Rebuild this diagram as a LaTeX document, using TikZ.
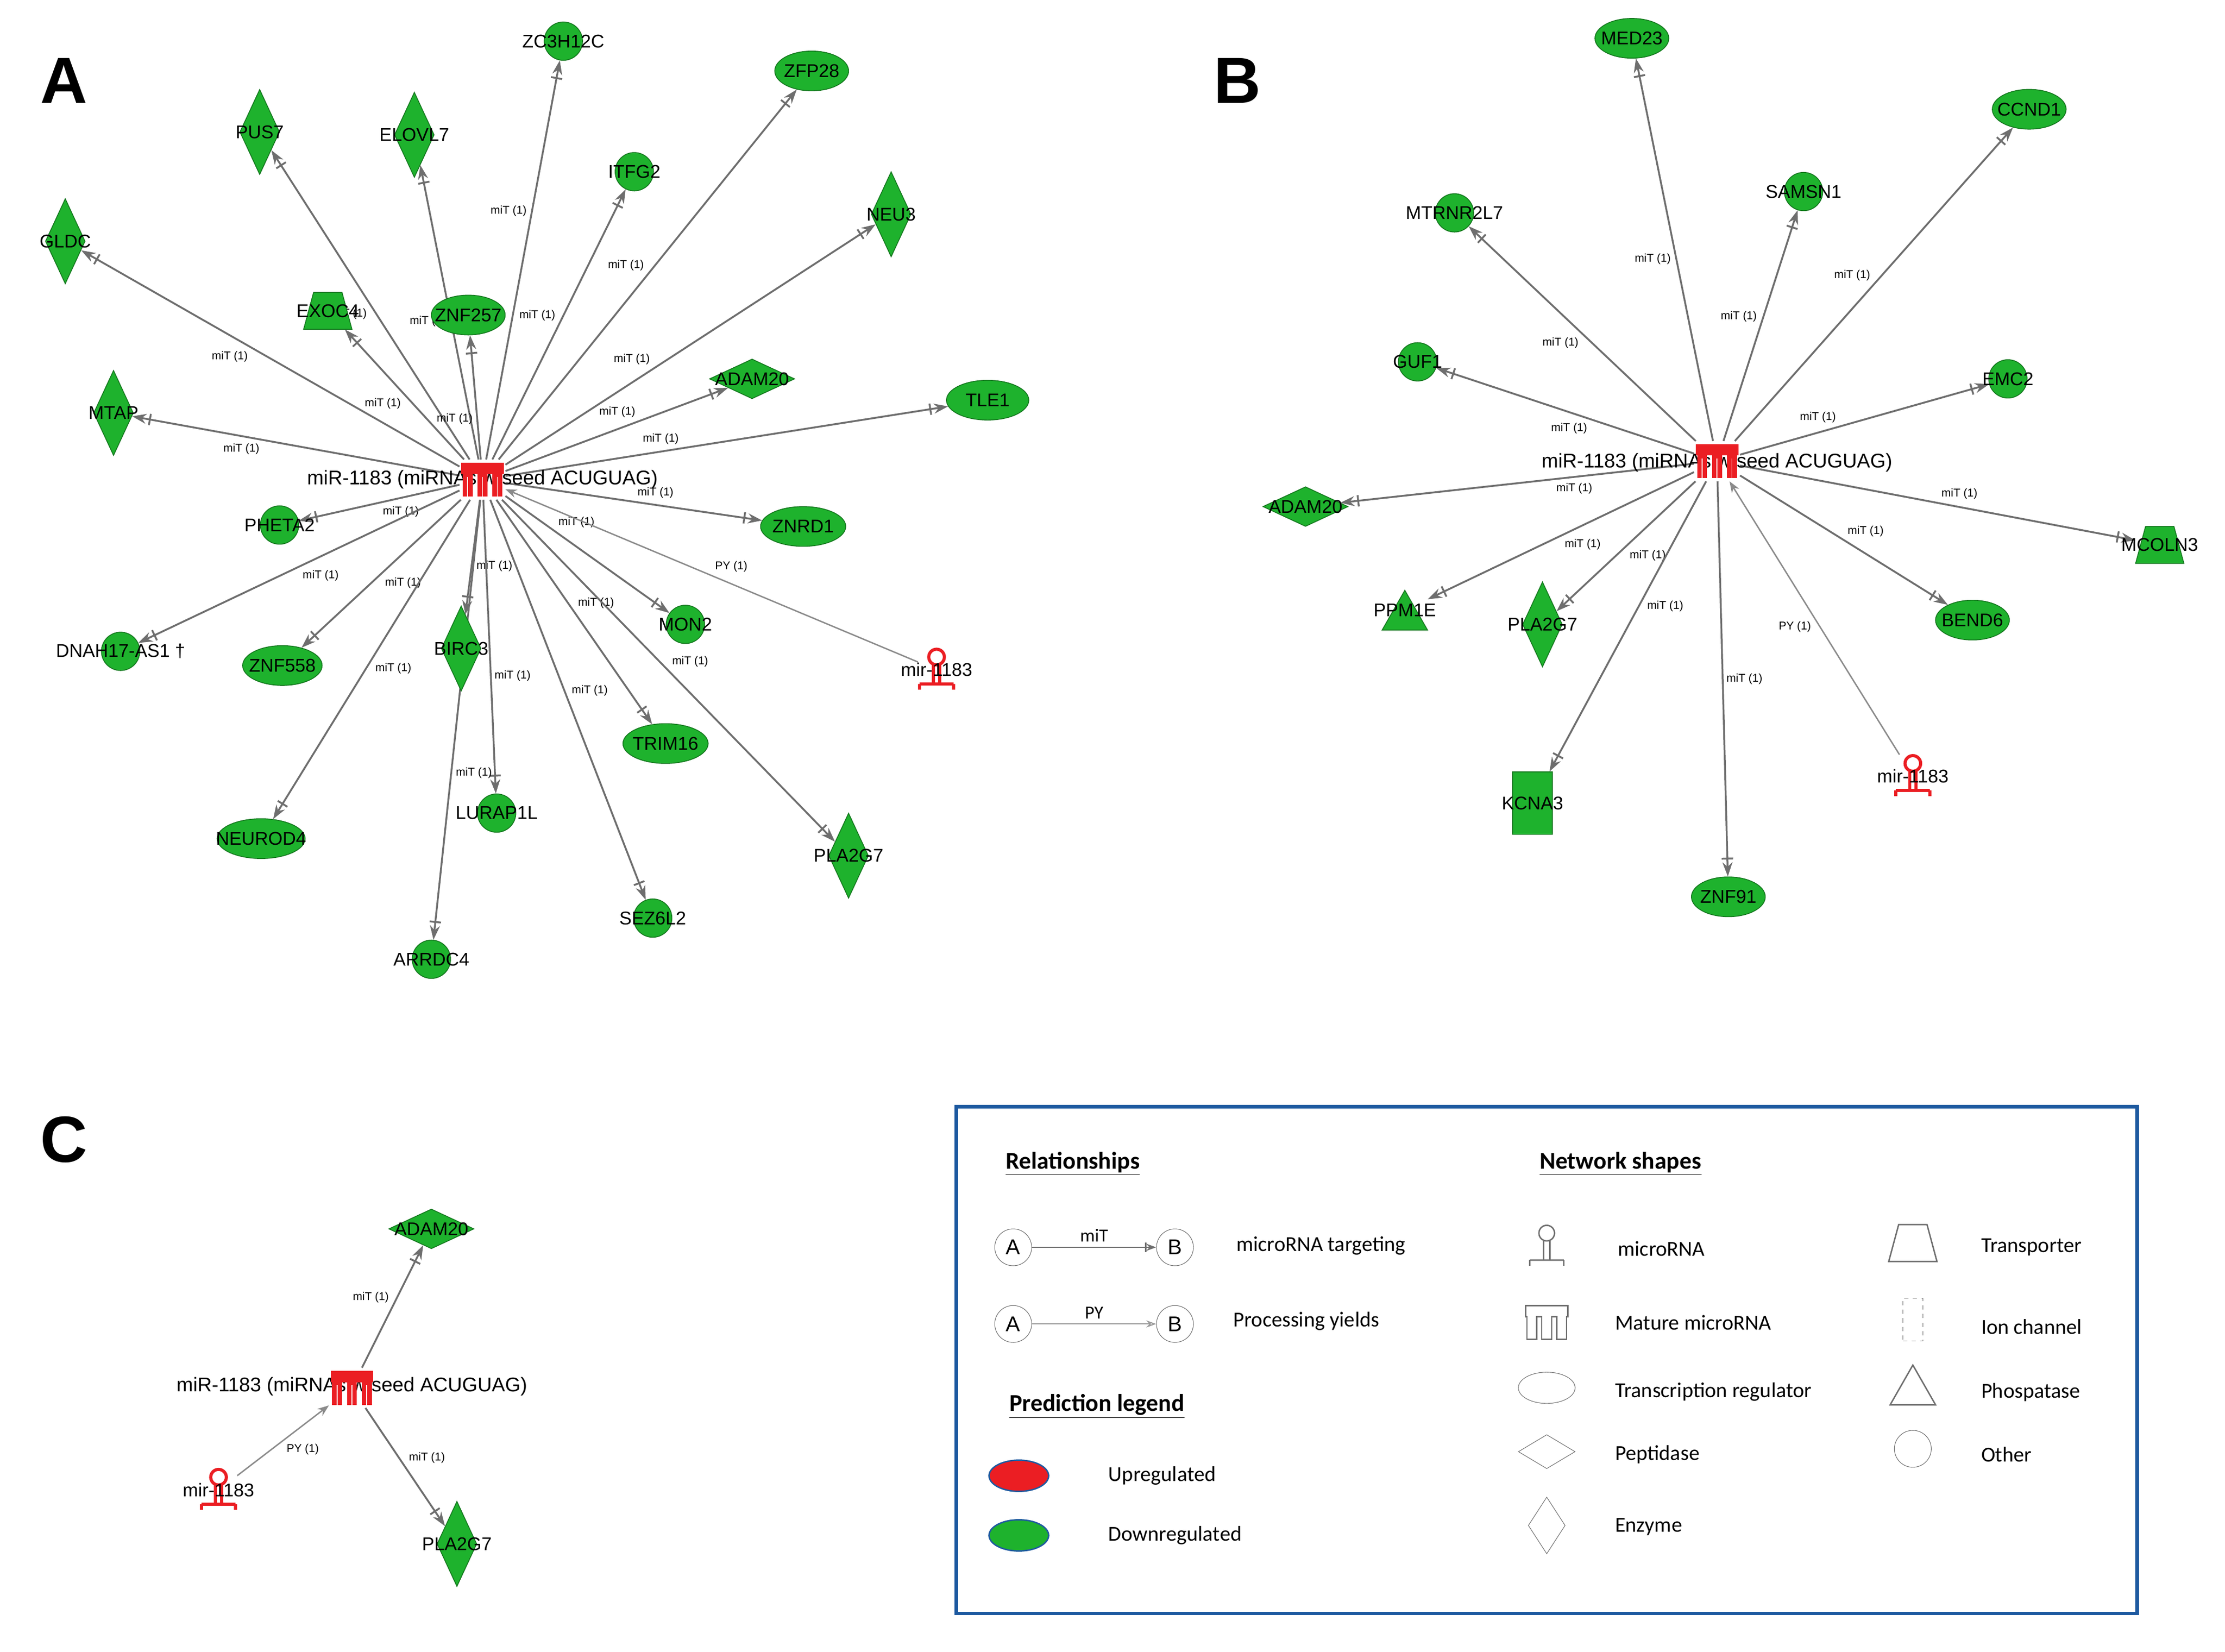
\documentclass[tikz,border=0pt]{standalone}
\usepackage{fontspec}
\setmainfont{Liberation Sans}
\newfontfamily\legf{Carlito}
\usetikzlibrary{shapes.geometric,arrows.meta,backgrounds}
\definecolor{gfill}{RGB}{30,178,45}
\definecolor{gline}{RGB}{20,120,30}
\definecolor{mred}{RGB}{235,30,35}
\definecolor{eg}{RGB}{110,110,110}
\definecolor{lblue}{RGB}{30,90,160}
\newcommand\trapZ[3]{\path[#1] ({#2-10},{#3-13}) -- ({#2+10},{#3-13}) -- ({#2+17},{#3+13}) -- ({#2-17},{#3+13}) -- cycle;}
\newcommand\triZ[3]{\path[#1] ({#2},{#3-14}) -- ({#2+16},{#3+14}) -- ({#2-16},{#3+14}) -- cycle;}
\begin{document}
\begin{tikzpicture}[x=1pt,y=-1pt,
 every label/.style={font=\fontsize{13}{15}\selectfont,inner sep=0pt},
 base/.style={fill=gfill,draw=gline,line width=0.6pt,inner sep=0pt},
 gsh/.style={fill=gfill,draw=gline,line width=0.6pt},
 ell/.style={base,ellipse,minimum width=52,minimum height=28},
 circ/.style={base,circle,minimum size=27},
 enz/.style={base,diamond,minimum width=28,minimum height=60},
 pep/.style={base,diamond,minimum width=60,minimum height=28},
 trans/.style={inner sep=0pt,minimum width=34,minimum height=26},
 phos/.style={inner sep=0pt,minimum width=32,minimum height=28},
 ion/.style={base,rectangle,minimum width=28,minimum height=44},
 hub/.style={inner sep=0pt,minimum width=32,minimum height=28},
 mic/.style={inner sep=0pt,minimum width=26,minimum height=30},
 htxt/.style={font=\fontsize{14}{16}\selectfont,inner sep=0pt},
 ed/.style={draw=eg,line width=1.3pt,-{Bar[width=8pt,sep=2pt]Stealth[length=10pt,width=7pt]}},
 py/.style={draw=eg!80,line width=1pt,-{Stealth[length=8pt,width=6pt]}},
 lb/.style={font=\fontsize{8}{9}\selectfont,inner sep=2pt,auto},
 letter/.style={font=\fontsize{46}{50}\selectfont\bfseries},
 leg/.style={font=\legf\fontsize{15}{18}\selectfont,anchor=west,inner sep=0pt},
 legh/.style={font=\legf\fontsize{17}{20}\selectfont\bfseries,inner sep=0pt},
 lc/.style={draw=eg,circle,minimum size=26,inner sep=0pt,font=\fontsize{15}{17}\selectfont},
 mature/.pic={\fill[mred] (-15,-12) rectangle (15,-4);
   \fill[mred] (-14,-4) rectangle (-7,12); \fill[mred] (-3.5,-4) rectangle (3.5,12); \fill[mred] (7,-4) rectangle (14,12);
   \draw[white,line width=0.6pt] (-10.5,-2)--(-10.5,12) (0,-2)--(0,12) (10.5,-2)--(10.5,12);},
 mirna/.pic={\draw[mred,line width=2.2pt] (0,-9) circle (5.5) (-2.2,-3.8)--(-2.2,10) (2.2,-3.8)--(2.2,10) (-12,10)--(12,10) (-12,10)--(-12,14) (12,10)--(12,14);},
]
\useasboundingbox (0,0) rectangle (1568,1164);
\newcommand\mtE[3][0.5]{\draw[ed] (#2) -- node[lb,pos=#1]{miT (1)} (#3);}
% ---------------- Panel A
\node[letter] (LA) at (45,57) {A};
\node[htxt] (ta) at (340,338) {miR-1183 (miRNAs w/seed ACUGUAG)};
\node[hub] (a0) at (340,338) {};
\pic at (340,338) {mature};
\node[enz,label=center:GLDC] (a1) at (46,170) {};
\node[enz,label=center:PUS7] (a2) at (183,93) {};
\node[enz,label=center:ELOVL7] (a3) at (292,95) {};
\node[circ,label=center:ZC3H12C] (a4) at (397,29) {};
\node[ell,label=center:ZFP28] (a5) at (572,50) {};
\node[circ,label=center:ITFG2] (a6) at (447,121) {};
\node[enz,label=center:NEU3] (a7) at (628,151) {};
\trapZ{gsh}{231}{219}
\node[trans,label=center:EXOC4] (a8) at (231,219) {};
\node[ell,label=center:ZNF257] (a9) at (330,222) {};
\node[pep,label=center:ADAM20] (a10) at (530,267) {};
\node[ell,minimum width=58,label=center:TLE1] (a11) at (696,282) {};
\node[enz,label=center:MTAP] (a12) at (80,291) {};
\node[circ,label=center:PHETA2] (a13) at (197,370) {};
\node[ell,minimum width=60,label=center:ZNRD1] (a14) at (566,371) {};
\node[circ,label=center:{DNAH17-AS1 †}] (a15) at (85,459) {};
\node[ell,minimum width=56,label=center:ZNF558] (a16) at (199,469) {};
\node[enz,label=center:BIRC3] (a17) at (325,457) {};
\node[circ,label=center:MON2] (a18) at (483,440) {};
\node[ell,minimum width=60,label=center:TRIM16] (a19) at (469,524) {};
\node[ell,minimum width=62,label=center:NEUROD4] (a20) at (184,591) {};
\node[circ,label=center:LURAP1L] (a21) at (350,573) {};
\node[enz,label=center:PLA2G7] (a22) at (598,603) {};
\node[circ,label=center:SEZ6L2] (a23) at (460,647) {};
\node[circ,label=center:ARRDC4] (a24) at (304,676) {};
\node[mic] (am) at (660,472) {};
\pic at (660,472) {mirna};
\node[label=center:mir-1183] at (660,472) {};
\begin{scope}[on background layer]
\mtE[0.55]{a0}{a1}\mtE{a0}{a2}\mtE{a0}{a3}\mtE[0.6]{a0}{a4}\mtE{a0}{a5}\mtE[0.5]{a0}{a6}
\mtE[0.4]{a0}{a7}\mtE{a0}{a8}\mtE[0.4]{a0}{a9}\mtE[0.6]{a0}{a10}\mtE[0.4]{a0}{a11}\mtE[0.6]{a0}{a12}
\mtE[0.5]{a0}{a13}\mtE[0.5]{a0}{a14}\mtE[0.5]{a0}{a15}\mtE[0.5]{a0}{a16}\mtE[0.5]{a0}{a17}
\mtE[0.3]{a0}{a18}\mtE[0.5]{a0}{a19}\mtE[0.5]{a0}{a20}\mtE[0.6]{a0}{a21}\mtE[0.5]{a0}{a22}
\mtE[0.5]{a0}{a23}\mtE[0.6]{a0}{a24}
\draw[py] (am) -- node[lb,pos=0.5,swap]{PY (1)} (a0);
\end{scope}
% ---------------- Panel B
\node[letter] (LB) at (872,57) {B};
\node[htxt] (tb) at (1210,326) {miR-1183 (miRNAs w/seed ACUGUAG)};
\node[hub] (b0) at (1210,325) {};
\pic at (1210,325) {mature};
\node[ell,label=center:MED23] (b1) at (1150,27) {};
\node[ell,label=center:CCND1] (b2) at (1430,77) {};
\node[circ,label=center:SAMSN1] (b3) at (1271,135) {};
\node[circ,label=center:MTRNR2L7] (b4) at (1025,150) {};
\node[circ,label=center:GUF1] (b5) at (999,255) {};
\node[circ,label=center:EMC2] (b6) at (1415,267) {};
\node[pep,label=center:ADAM20] (b7) at (920,357) {};
\trapZ{gsh}{1522}{384}
\node[trans,label=center:MCOLN3] (b8) at (1522,384) {};
\triZ{gsh}{990}{430}
\node[phos,label=center:PPM1E] (b9) at (990,430) {};
\node[enz,label=center:PLA2G7] (b10) at (1087,440) {};
\node[ell,label=center:BEND6] (b11) at (1390,437) {};
\node[ion,label=center:KCNA3] (b12) at (1080,566) {};
\node[ell,label=center:ZNF91] (b13) at (1218,632) {};
\node[mic] (bm) at (1348,547) {};
\pic at (1348,547) {mirna};
\node[label=center:mir-1183] at (1348,547) {};
\begin{scope}[on background layer]
\mtE{b0}{b1}\mtE{b0}{b2}\mtE{b0}{b3}\mtE{b0}{b4}\mtE[0.4]{b0}{b5}\mtE[0.4]{b0}{b6}\mtE[0.4]{b0}{b7}
\mtE[0.5]{b0}{b8}\mtE[0.5]{b0}{b9}\mtE[0.5]{b0}{b10}\mtE[0.5]{b0}{b11}\mtE[0.4]{b0}{b12}\mtE[0.5]{b0}{b13}
\draw[py] (bm) -- node[lb,pos=0.5]{PY (1)} (b0);
\end{scope}
% ---------------- Panel C
\node[letter] (LC) at (45,803) {C};
\node[htxt] (tc) at (248,977) {miR-1183 (miRNAs w/seed ACUGUAG)};
\node[hub] (c0) at (248,978) {};
\pic at (248,978) {mature};
\node[pep,label=center:ADAM20] (c1) at (304,866) {};
\node[enz,label=center:PLA2G7] (c2) at (322,1088) {};
\node[mic] (cm) at (154,1050) {};
\pic at (154,1050) {mirna};
\node[label=center:mir-1183] at (154,1050) {};
\begin{scope}[on background layer]
\mtE{c0}{c1}\mtE{c0}{c2}
\draw[py] (cm) -- node[lb,pos=0.5,swap]{PY (1)} (c0);
\end{scope}
% ---------------- Legend
\node[draw=lblue,line width=2.5pt,minimum width=832,minimum height=357,inner sep=0pt] (box) at (1090,958.5) {};
\node[legh] (h1) at (756,820) {\underline{Relationships}};
\node[lc] (la1) at (714,879) {A}; \node[lc] (lb1) at (828,879) {B};
\draw[draw=eg,line width=1pt,-{Bar[width=7pt]Stealth[length=7pt,width=5pt]}] (la1) -- node[above,font=\legf\fontsize{13}{15}\selectfont]{miT} (lb1);
\node[leg] (t1) at (871,878) {microRNA targeting};
\node[lc] (la2) at (714,933) {A}; \node[lc] (lb2) at (828,933) {B};
\draw[draw=eg!70,line width=0.8pt,-{Stealth[length=7pt,width=5pt,open]}] (la2) -- node[above,font=\legf\fontsize{13}{15}\selectfont]{PY} (lb2);
\node[leg] (t2) at (869,931) {Processing yields};
\node[legh] (h2) at (773,991) {\underline{Prediction legend}};
\node[ellipse,fill=mred,draw=lblue,line width=1pt,minimum width=42,minimum height=22] (u) at (718,1040) {};
\node[leg] (tu) at (781,1040) {Upregulated};
\node[ellipse,fill=gfill,draw=lblue,line width=1pt,minimum width=42,minimum height=22] (d) at (718,1082) {};
\node[leg] (td) at (781,1082) {Downregulated};
\node[legh] (h3) at (1142,820) {\underline{Network shapes}};
\begin{scope}[shift={(1090,878)},eg,line width=1pt]
\draw (0,-9) circle (5.5) (-2.2,-3.8)--(-2.2,10) (2.2,-3.8)--(2.2,10) (-12,10)--(12,10) (-12,10)--(-12,14) (12,10)--(12,14);
\end{scope}
\node[mic] (s1) at (1090,878) {};
\node[leg] at (1140,880) {microRNA};
\begin{scope}[shift={(1090,932)},draw=eg,line width=1pt]
\draw (-15,-12) -- (15,-12) -- (15,-4) -- (14,-4) -- (14,12) -- (7,12) -- (7,-4) -- (3.5,-4) -- (3.5,12) -- (-3.5,12) -- (-3.5,-4) -- (-7,-4) -- (-7,12) -- (-14,12) -- (-14,-4) -- (-15,-4) -- cycle;
\end{scope}
\node[hub] (s2) at (1090,932) {};
\node[leg] at (1138,932) {Mature microRNA};
\node[draw=eg,ellipse,minimum width=40,minimum height=22,inner sep=0pt] (s3) at (1090,978) {};
\node[leg] at (1138,981) {Transcription regulator};
\node[draw=eg,diamond,minimum width=40,minimum height=24,inner sep=0pt] (s4) at (1090,1023) {};
\node[leg] at (1138,1025) {Peptidase};
\node[draw=eg,diamond,minimum width=26,minimum height=40,inner sep=0pt] (s5) at (1090,1075) {};
\node[leg] at (1138,1076) {Enzyme};
\trapZ{draw=eg,line width=1pt}{1348}{876}
\node[trans] (s6) at (1348,876) {};
\node[leg] at (1396,879) {Transporter};
\node[draw=eg,dashed,minimum width=14,minimum height=30,inner sep=0pt] (s7) at (1348,930) {};
\node[leg] at (1396,935) {Ion channel};
\triZ{draw=eg,line width=1pt}{1348}{976}
\node[phos] (s8) at (1348,976) {};
\node[leg] at (1396,981) {Phospatase};
\node[draw=eg,circle,minimum size=26,inner sep=0pt] (s9) at (1348,1021) {};
\node[leg] at (1396,1025) {Other};
\end{tikzpicture}
\end{document}
